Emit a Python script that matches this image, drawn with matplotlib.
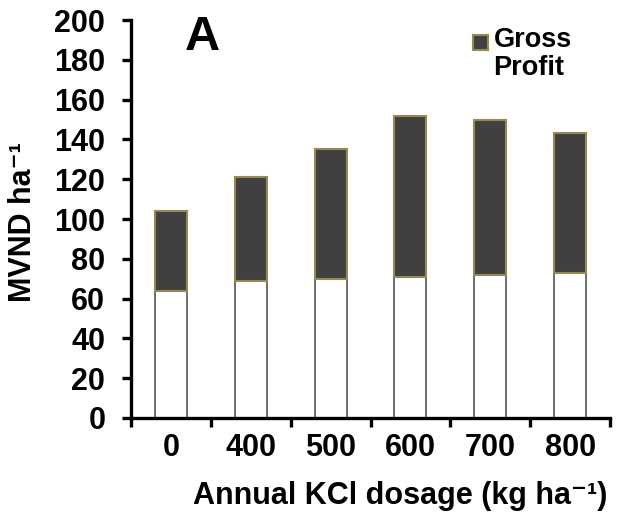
import matplotlib
matplotlib.use("Agg")
import matplotlib.pyplot as plt
from matplotlib.patches import Rectangle

plt.rcParams["font.family"] = ["Liberation Sans", "DejaVu Sans"]
plt.rcParams["font.weight"] = "bold"

# data
dosages = ["0", "400", "500", "600", "700", "800"]
base_cost = [64, 69, 70, 71, 72, 73]
gross_profit = [40, 52, 65, 81, 78, 70]

fill_dark = "#404040"
edge_olive = "#948a54"
edge_gray = "#555555"

fig = plt.figure(figsize=(6.17, 5.21), dpi=100)
ax = fig.add_axes([0.2123, 0.1977, 0.7764, 0.7639])

x = range(len(dosages))
ax.bar(x, base_cost, width=0.4, color="white", edgecolor=edge_gray, linewidth=1.2, zorder=2)
ax.bar(x, gross_profit, width=0.4, bottom=base_cost, color=fill_dark,
       edgecolor=edge_olive, linewidth=1.5, zorder=3)

ax.set_xlim(-0.5, len(dosages) - 0.5)
ax.set_ylim(0, 200)
ax.set_yticks(range(0, 201, 20))

# ticks at category boundaries, labels at centers
ax.set_xticks([i - 0.5 for i in range(len(dosages) + 1)])
ax.set_xticklabels([])
ax.set_xticks(list(x), minor=True)
ax.set_xticklabels(dosages, minor=True)
ax.tick_params(axis="x", which="major", direction="out", length=6.5, width=2.4)
ax.tick_params(axis="x", which="minor", length=0, pad=11, labelsize=22)
ax.tick_params(axis="y", direction="out", length=6.5, width=2.4, pad=12, labelsize=22)

for s in ["top", "right"]:
    ax.spines[s].set_visible(False)
for s in ["left", "bottom"]:
    ax.spines[s].set_linewidth(2.4)

ax.set_xlabel("Annual KCl dosage (kg ha\u207b\u00b9)", fontsize=22, fontweight="bold")
ax.xaxis.set_label_coords(0.562, -0.158)
ax.set_ylabel("MVND ha\u207b\u00b9", fontsize=22, fontweight="bold")
ax.yaxis.set_label_coords(-0.195, 0.492)

ax.text(0.148, 0.957, "A", transform=ax.transAxes, ha="center", va="center",
        fontsize=35, fontweight="bold")

# legend drawn by hand so the swatch lines up with the first line
ax.add_patch(Rectangle((0.714, 0.9246), 0.0313, 0.0377, transform=ax.transAxes,
                       facecolor=fill_dark, edgecolor=edge_olive, linewidth=1.5,
                       clip_on=False, zorder=4))
ax.text(0.757, 0.982, "Gross\nProfit", transform=ax.transAxes, ha="left", va="top",
        fontsize=19.5, fontweight="bold", linespacing=1.1)

fig.savefig("out.png", dpi=100)
